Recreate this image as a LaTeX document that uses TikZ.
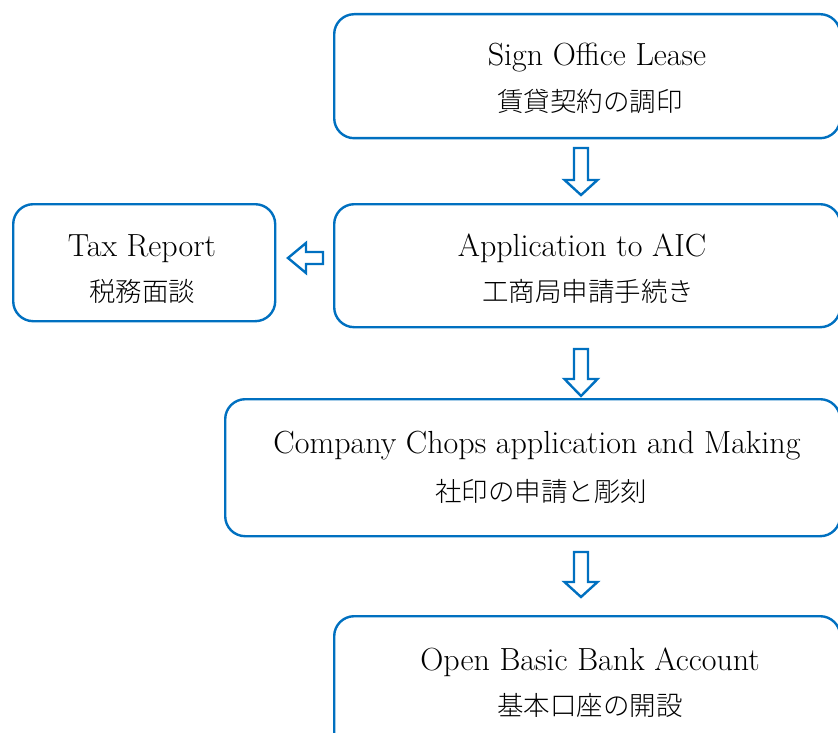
\documentclass[tikz,border=0pt]{standalone}
\usepackage{fontspec}
\IfFontExistsTF{Noto Sans CJK JP Light}{\newfontfamily\jpfont{Noto Sans CJK JP Light}}{\newfontfamily\jpfont{Noto Sans CJK JP}}
\definecolor{boxblue}{HTML}{0070C0}
\tikzset{
  flowbox/.style={draw=boxblue, line width=2.4pt, rounded corners=20pt, fill=white, inner sep=0pt, anchor=north west},
  entext/.style={font=\fontsize{32}{36}\selectfont, anchor=base, inner sep=0pt},
  jptext/.style={font=\jpfont\fontsize{26.5}{30}\selectfont, anchor=center, inner sep=0pt},
  blkarrow/.style={draw=boxblue, line width=2.4pt, fill=white, line join=miter}
}
\newcommand\blkdown[4]{% cx, top, head base, tip
  \draw[blkarrow] (#1-7,#2) -- (#1+7,#2) -- (#1+7,#3) -- (#1+16.5,#3) -- (#1,#4) -- (#1-16.5,#3) -- (#1-7,#3) -- cycle;}
\begin{document}
\begin{tikzpicture}[x=1pt,y=-1pt]
\useasboundingbox (0,0) rectangle (838,733);
% boxes
\node[flowbox, minimum width=506pt, minimum height=124pt] (lease) at (333,13) {};
\node[flowbox, minimum width=506pt, minimum height=123pt] (aic) at (333,203) {};
\node[flowbox, minimum width=262pt, minimum height=117pt] (tax) at (12,203) {};
\node[flowbox, minimum width=615pt, minimum height=137pt] (chops) at (224,398) {};
\node[flowbox, minimum width=506pt, minimum height=140pt] (bank) at (333,615) {};
% texts
\node[entext] (leaseEn) at (597,66) {Sign Office Lease};
\node[jptext] (leaseJp) at (590,101) {賃貸契約の調印};
\node[entext] (aicEn) at (582,256) {Application to AIC};
\node[jptext] (aicJp) at (588,291) {工商局申請手続き};
\node[entext] (taxEn) at (142,256) {Tax Report};
\node[jptext] (taxJp) at (142,291) {税務面談};
\node[entext] (chopsEn) at (537,453) {Company Chops application and Making};
\node[jptext] (chopsJp) at (541,491) {社印の申請と彫刻};
\node[entext] (bankEn) at (590,670) {Open Basic Bank Account};
\node[jptext] (bankJp) at (590,705) {基本口座の開設};
% block arrows
\blkdown{581}{148}{180}{195}
\blkdown{581}{349}{379}{396}
\blkdown{581}{552}{582}{597}
\draw[blkarrow] (323,252) -- (323,264) -- (306,264) -- (306,273) -- (288,258) -- (306,243) -- (306,252) -- cycle;
\end{tikzpicture}
\end{document}
